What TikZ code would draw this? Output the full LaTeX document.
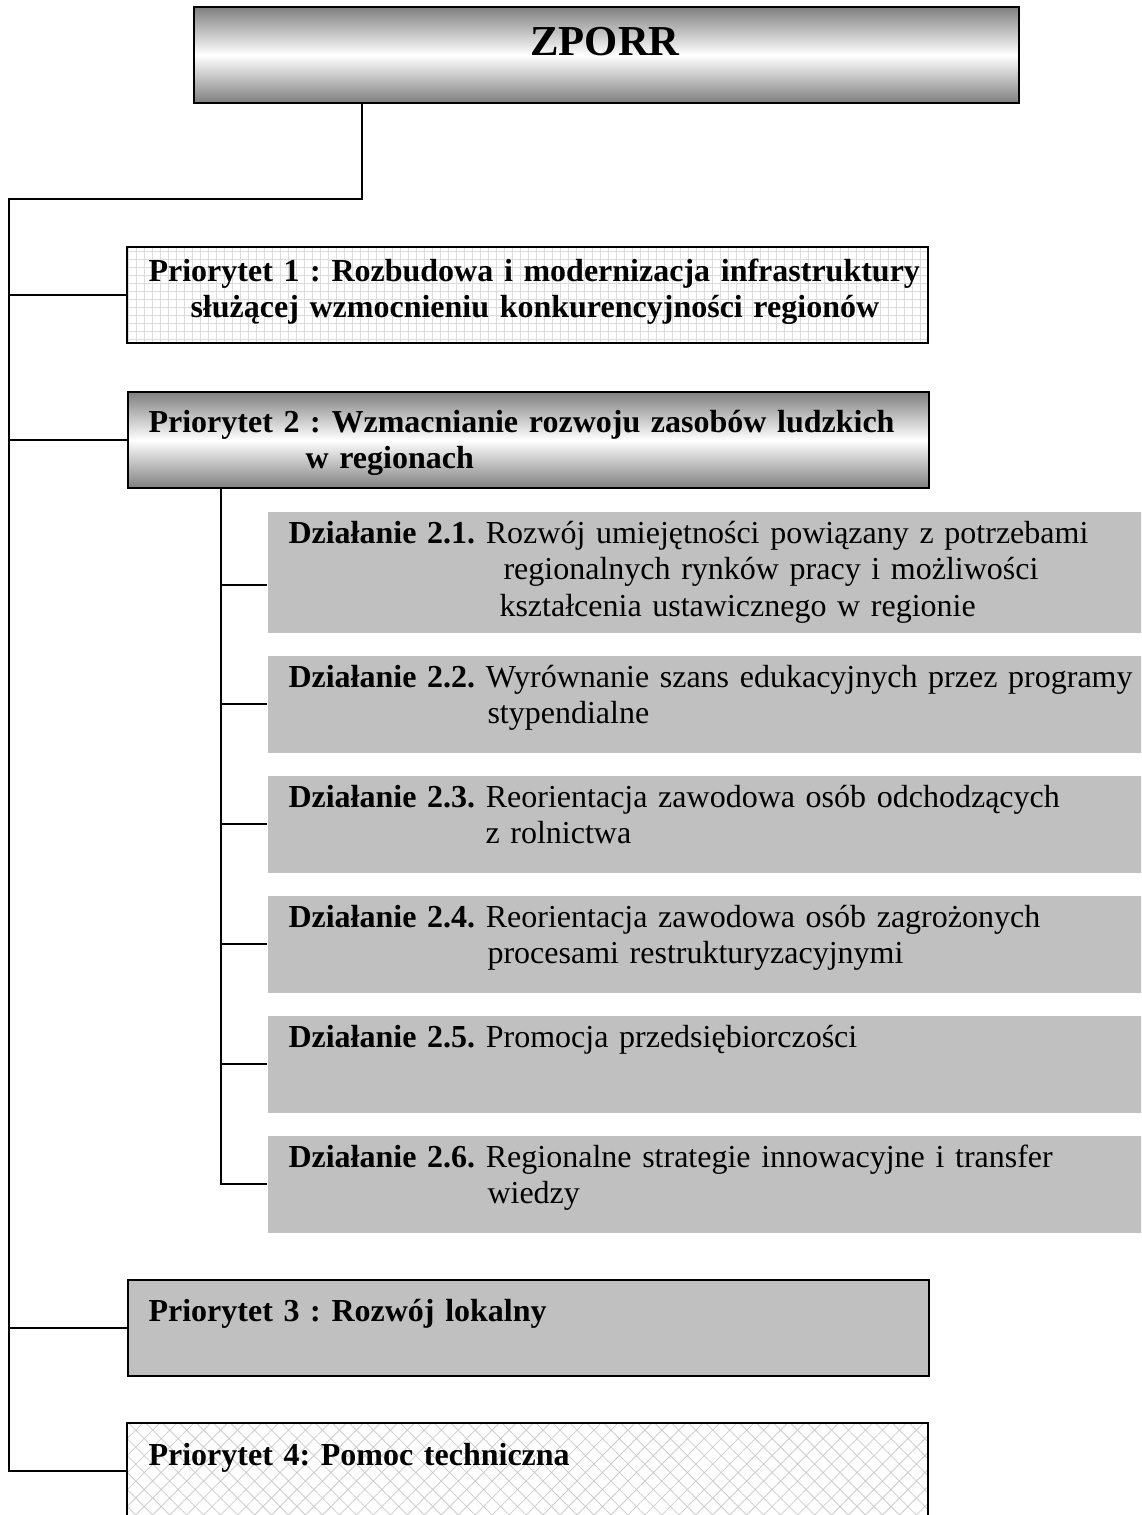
\documentclass[tikz,border=0pt]{standalone}
\usepackage{fontspec}
\setmainfont{Liberation Serif}
\usetikzlibrary{patterns.meta}
\newdimen\pxu \pxu=0.375pt
\frenchspacing
\begin{document}
\begin{tikzpicture}[x=0.375pt,y=-0.375pt,font=\fontsize{12}{13.8}\selectfont,
    prio/.style={draw=ink,line width=0.75pt,inner sep=0pt,anchor=north west,
      minimum width=801\pxu,minimum height=96\pxu},
    actbox/.style={fill=boxgray,inner sep=0pt,anchor=north west,
      minimum width=874\pxu,minimum height=97\pxu},
    boxtext/.style={anchor=base west,inner sep=0pt,align=left,text width=880\pxu},
    link/.style={ink,line width=0.75pt}]
  \definecolor{ink}{HTML}{000000}
  \definecolor{boxgray}{HTML}{C0C0C0}
  \definecolor{shade}{HTML}{7F7F7F}
  \definecolor{hatch}{HTML}{CDCDCD}
  \definecolor{grid}{HTML}{DCDCDC}
  \path[use as bounding box] (0,0) rectangle (1141,1515);
  \clip (0,0) rectangle (1141,1515);
  % boxes
  \node[prio,minimum width=825\pxu,top color=shade,bottom color=shade,middle color=white]
    (zporr) at (193,6) {};
  \node[anchor=base,inner sep=0pt,font=\bfseries\fontsize{16}{18.4}\selectfont]
    (zporrtext) at (605,56) {ZPORR};
  \node[prio,pattern={Hatch[angle=0,distance=3pt,line width=0.25pt]},pattern color=grid]
    (p1) at (127,247) {};
  \node[prio,top color=shade,bottom color=shade,middle color=white] (p2) at (127,391) {};
  \node[prio,fill=boxgray] (p3) at (127,1279) {};
  \node[prio,pattern={Hatch[angle=45,distance=4.5pt,line width=0.3pt]},pattern color=hatch]
    (p4) at (127,1423) {};
  \node[actbox,minimum height=121\pxu] (act1) at (267,511) {};
  \foreach \idx/\top in {2/655,3/775,4/895,5/1015,6/1135}{
    \node[actbox] (act\idx) at (267,\top) {};
  }
  % texts
  \node[boxtext,font=\bfseries\fontsize{12}{13.8}\selectfont] (p1text) at (148,281)
    {\makebox[750\pxu][s]{Priorytet 1 : Rozbudowa i modernizacja infrastruktury}\\
     \hspace*{42\pxu}\makebox[708\pxu][s]{służącej wzmocnieniu konkurencyjności regionów}};
  \node[boxtext,font=\bfseries\fontsize{12}{13.8}\selectfont] (p2text) at (148,432)
    {Priorytet 2 : Wzmacnianie rozwoju zasobów ludzkich\\
     \hspace*{157\pxu}w regionach};
  \node[boxtext,font=\bfseries\fontsize{12}{13.8}\selectfont] (p3text) at (148,1321)
    {Priorytet 3 : Rozwój lokalny};
  \node[boxtext,font=\bfseries\fontsize{12}{13.8}\selectfont] (p4text) at (148,1465)
    {Priorytet 4: Pomoc techniczna};
  \node[boxtext] (act1text) at (288,543)
    {\makebox[836\pxu][s]{\textbf{Działanie 2.1.} Rozwój umiejętności powiązany z potrzebami}\\
     \hspace*{215\pxu}\makebox[621\pxu][s]{regionalnych rynków pracy i możliwości}\\
     \hspace*{211\pxu}kształcenia ustawicznego w regionie};
  \node[boxtext] (act2text) at (288,687)
    {\makebox[836\pxu][s]{\textbf{Działanie 2.2.} Wyrównanie szans edukacyjnych przez programy}\\
     \hspace*{199\pxu}stypendialne};
  \node[boxtext] (act3text) at (288,807)
    {\textbf{Działanie 2.3.} Reorientacja zawodowa osób odchodzących\\
     \hspace*{197\pxu}z rolnictwa};
  \node[boxtext] (act4text) at (288,927)
    {\textbf{Działanie 2.4.} Reorientacja zawodowa osób zagrożonych\\
     \hspace*{199\pxu}procesami restrukturyzacyjnymi};
  \node[boxtext] (act5text) at (288,1047)
    {\textbf{Działanie 2.5.} Promocja przedsiębiorczości};
  \node[boxtext] (act6text) at (288,1167)
    {\textbf{Działanie 2.6.} Regionalne strategie innowacyjne i transfer\\
     \hspace*{199\pxu}wiedzy};
  % connectors
  \coordinate (joint) at (362,199);
  \coordinate (spine) at (9,199);
  \coordinate (fork) at (221,487);
  \draw[link] (zporr.south -| joint) -- (joint) -- (spine) |- (p4.west);
  \foreach \idx in {1,2,3}{\draw[link] (spine |- p\idx.west) -- (p\idx.west);}
  \draw[link] (fork) |- (act6.west);
  \draw[link] (fork |- act1.west) ++(0,13) -- ([yshift=-13\pxu]act1.west);
  \foreach \idx in {2,...,5}{\draw[link] (fork |- act\idx.west) -- (act\idx.west);}
\end{tikzpicture}
\end{document}
